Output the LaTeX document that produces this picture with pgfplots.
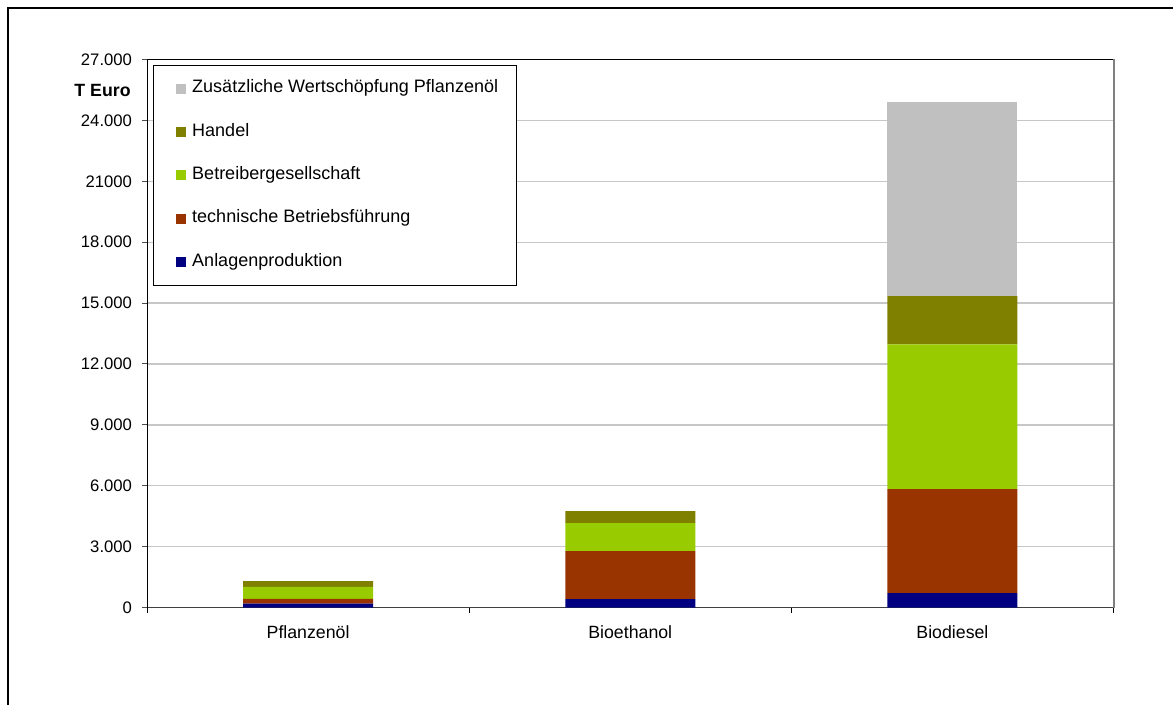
\documentclass[border=0pt]{standalone}
\usepackage{fontspec}
\setmainfont{Liberation Sans}
\usepackage{pgfplots}
\pgfplotsset{compat=1.18}
\definecolor{cgray}{HTML}{C0C0C0}
\definecolor{colive}{HTML}{808000}
\definecolor{cgreen}{HTML}{99CC00}
\definecolor{cred}{HTML}{993300}
\definecolor{cnavy}{HTML}{000080}
\begin{document}
\begin{tikzpicture}
\useasboundingbox (0,0) rectangle (879.75pt,528pt);
\draw[line width=1.9pt] (6pt,-2pt) -- (6pt,522pt) -- (882pt,522pt);
\node[anchor=east,font=\fontsize{13.3}{15}\selectfont\bfseries] at (101.5pt,460pt) {T Euro};
\begin{axis}[
  at={(110.25pt,72.375pt)}, anchor=south west,
  scale only axis, width=724.9pt, height=411pt,
  ybar stacked, bar width=97.5pt,
  xmin=0, xmax=3, ymin=0, ymax=27000,
  scaled y ticks=false,
  axis lines=left, axis line style={-},
  x axis line style={draw=black!75, line width=1.2pt},
  y axis line style={draw=black, line width=0.75pt},
  xtick={0.5,1.5,2.5},
  xticklabels={Pflanzenöl,Bioethanol,Biodiesel},
  minor xtick={0,1,2,3},
  major x tick style={draw=none},
  minor x tick style={draw=black, line width=0.75pt},
  tick align=outside, major tick length=3.75pt, minor tick length=3.75pt,
  ytick={0,3000,6000,9000,12000,15000,18000,21000,24000,27000},
  yticklabels={0,3.000,6.000,9.000,12.000,15.000,18.000,21000,24.000,27.000},
  y tick style={draw=black!70, line width=0.75pt},
  ymajorgrids, grid style={draw=black!22, line width=1pt},
  tick label style={font=\fontsize{12.5}{14}\selectfont},
  xticklabel style={font=\fontsize{13.3}{15}\selectfont, yshift=-6pt},
  /pgf/number format/assume math mode=true,
  yticklabel style={xshift=-4pt},
  legend style={at={(0,1)}, anchor=north west, xshift=4.3pt, yshift=-4.1pt,
    draw=black, line width=0.75pt, inner xsep=13.5pt, inner ysep=11.5pt,
    row sep=20.5pt, cells={anchor=west},
    nodes={inner sep=0pt, text height=9pt, text depth=3pt},
    font=\fontsize{13.5}{15}\selectfont},
  legend image code/.code={\path (0pt,0pt) (15.75pt,0pt); \fill[#1,draw=none] (3.75pt,-3.75pt) rectangle (11.25pt,3.75pt);},
  reverse legend,
  after end axis/.code={
    \draw[black, line width=0.75pt] (rel axis cs:0,1) -- (rel axis cs:1,1);
    \draw[black!50, line width=1.5pt] (rel axis cs:1,1) -- (rel axis cs:1,0);
  },
]
\addplot[fill=cnavy, draw=none] coordinates {(0.5,190) (1.5,410) (2.5,710)};
\addplot[fill=cred, draw=none] coordinates {(0.5,230) (1.5,2370) (2.5,5120)};
\addplot[fill=cgreen, draw=none] coordinates {(0.5,600) (1.5,1380) (2.5,7140)};
\addplot[fill=colive, draw=none] coordinates {(0.5,280) (1.5,590) (2.5,2370)};
\addplot[fill=cgray, draw=none] coordinates {(0.5,0) (1.5,0) (2.5,9560)};
\legend{Anlagenproduktion,technische Betriebsführung,Betreibergesellschaft,Handel,Zusätzliche Wertschöpfung Pflanzenöl}
\end{axis}
\end{tikzpicture}
\end{document}
